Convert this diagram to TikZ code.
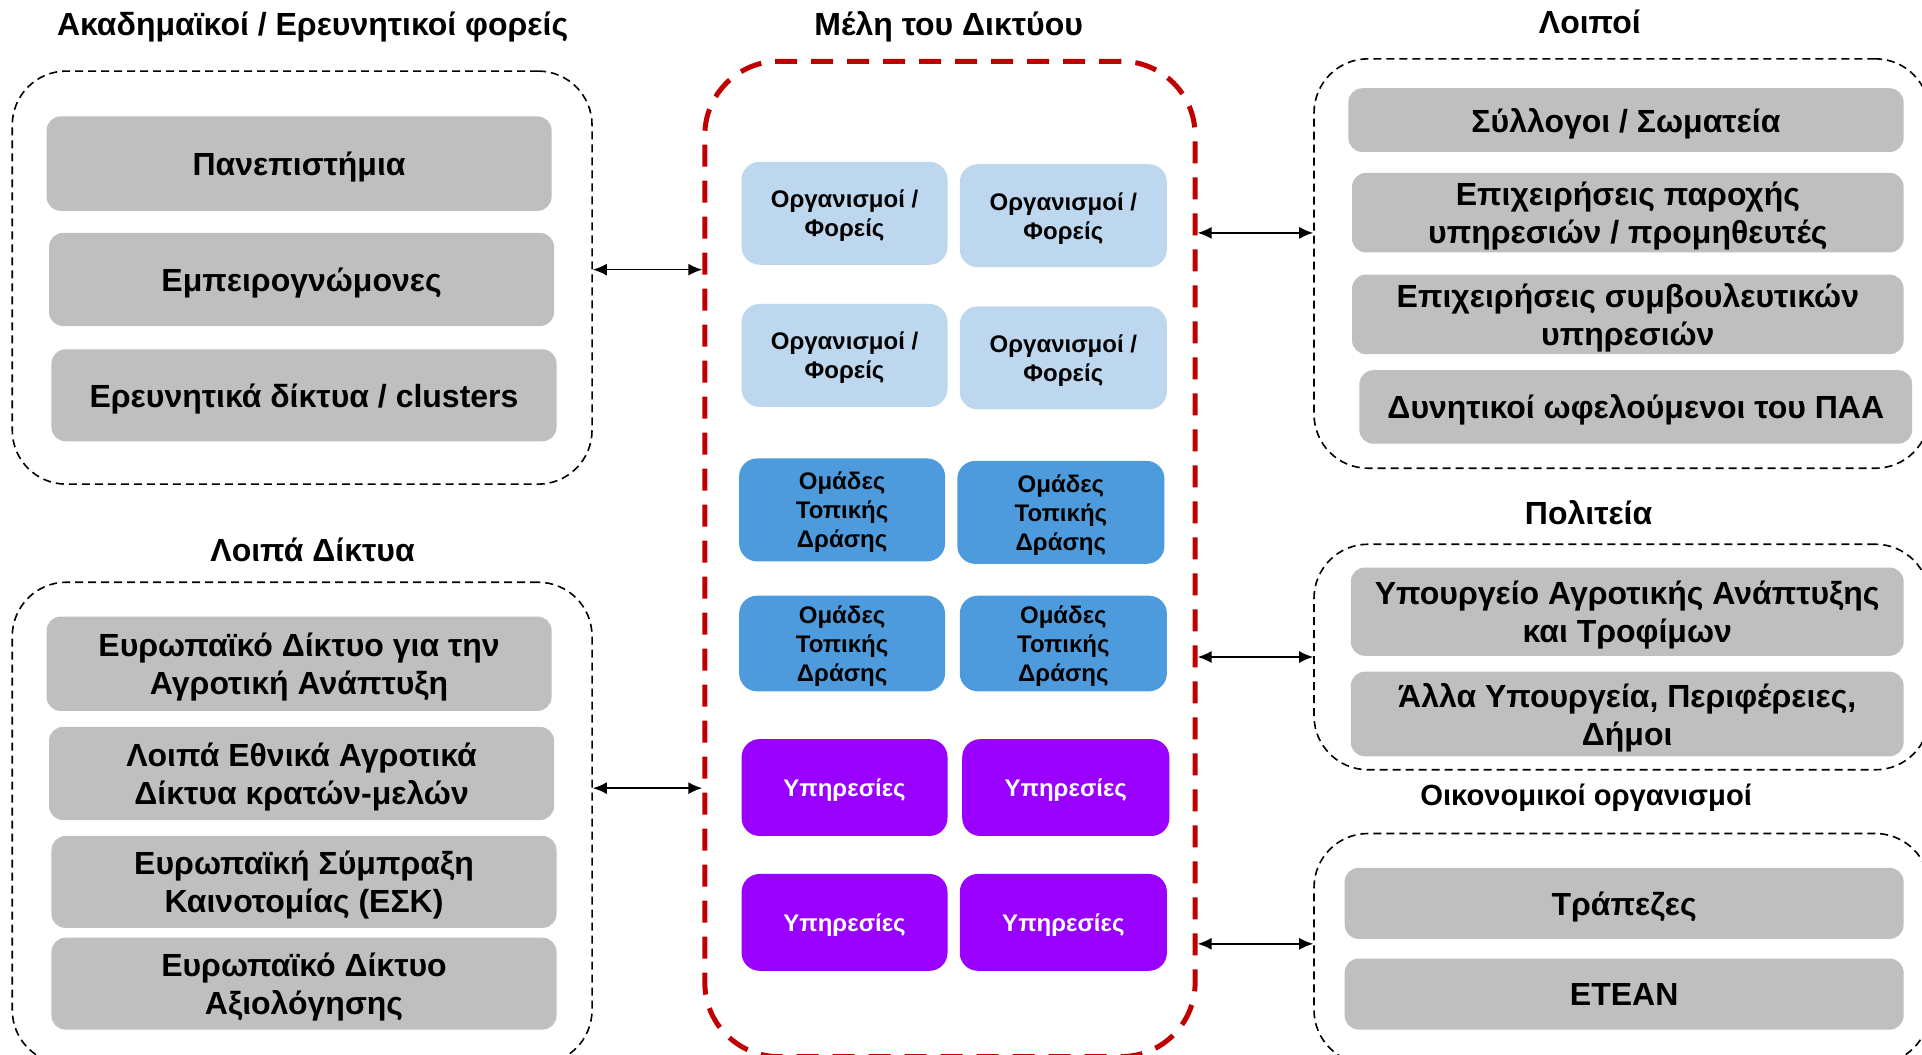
\documentclass[tikz,border=0pt]{standalone}
\usepackage{fontspec}
\setmainfont{Liberation Sans}
\usetikzlibrary{arrows.meta}
\definecolor{gboxc}{HTML}{BFBFBF}
\definecolor{lblue}{HTML}{BDD7EE}
\definecolor{mblue}{HTML}{4D9BDC}
\definecolor{purp}{HTML}{9900FF}
\definecolor{dred}{HTML}{C00000}
\newcommand\mybox[7]{%
  \pgfmathsetmacro\bcx{(#3+#5)/2}%
  \pgfmathsetmacro\bcy{(#4+#6)/2}%
  \pgfmathsetmacro\bww{(#5-#3)*0.6129}%
  \pgfmathsetmacro\bhh{(#6-#4)*0.6129}%
  \node[#1, minimum width=\bww pt, minimum height=\bhh pt] (#2) at (\bcx,\bcy) {#7};}
\begin{document}
\begin{tikzpicture}[x=0.6129pt,y=-0.6129pt,
  gbox/.style={fill=gboxc, draw=none, rounded corners=7pt, inner sep=0pt, align=center,
    text depth=0pt, font=\fontsize{16}{19}\selectfont\bfseries},
  sbox/.style={draw=none, rounded corners=9pt, inner sep=0pt, align=center,
    text depth=0pt, font=\fontsize{12}{14.5}\selectfont\bfseries},
  lb/.style={sbox, fill=lblue},
  mb/.style={sbox, fill=mblue},
  pb/.style={sbox, fill=purp, text=white},
  cont/.style={draw=black, dash pattern=on 4pt off 2.5pt, line width=0.8pt, rounded corners=27pt, inner sep=0pt},
  redbox/.style={draw=dred, dash pattern=on 11pt off 7pt, line width=2.5pt, rounded corners=37pt, inner sep=0pt},
  ttl/.style={font=\fontsize{16}{19}\selectfont\bfseries, inner sep=0pt},
  arr/.style={{Latex[length=7pt,width=6pt]}-{Latex[length=7pt,width=6pt]}, line width=0.8pt}
]
\useasboundingbox (0,0) rectangle (1568,860);
% titles
\node[ttl] (t1) at (255,22) {Ακαδημαϊκοί / Ερευνητικοί φορείς};
\node[ttl] (t2) at (255,449) {Λοιπά Δίκτυα};
\node[ttl] (t3) at (774,22) {Μέλη του Δικτύου};
\node[ttl] (t4) at (1297,18) {Λοιποί};
\node[ttl] (t5) at (1296,418) {Πολιτεία};
\node[ttl, font=\fontsize{14.6}{17}\selectfont\bfseries] (t6) at (1294,651) {Οικονομικοί οργανισμοί};
% containers
\mybox{cont}{c1}{10}{58}{483}{395}{}
\mybox{cont}{c2}{10}{475}{483}{868}{}
\mybox{cont}{c3}{1072}{48}{1574}{382}{}
\mybox{cont}{c4}{1072}{444}{1574}{628}{}
\mybox{cont}{c5}{1072}{680}{1574}{868}{}
\mybox{redbox}{red}{575}{50}{975}{862}{}
% left boxes
\mybox{gbox}{g1}{38}{95}{450}{172}{Πανεπιστήμια}
\mybox{gbox}{g2}{40}{190}{452}{266}{Εμπειρογνώμονες}
\mybox{gbox}{g3}{42}{285}{454}{360}{Ερευνητικά δίκτυα / clusters}
\mybox{gbox}{g4}{38}{503}{450}{580}{Ευρωπαϊκό Δίκτυο για την\\Αγροτική Ανάπτυξη}
\mybox{gbox}{g5}{40}{593}{452}{669}{Λοιπά Εθνικά Αγροτικά\\Δίκτυα κρατών-μελών}
\mybox{gbox}{g6}{42}{682}{454}{757}{Ευρωπαϊκή Σύμπραξη\\Καινοτομίας (ΕΣΚ)}
\mybox{gbox}{g7}{42}{765}{454}{840}{Ευρωπαϊκό Δίκτυο\\Αξιολόγησης}
% right boxes
\mybox{gbox}{r1}{1100}{72}{1553}{124}{Σύλλογοι / Σωματεία}
\mybox{gbox}{r2}{1103}{141}{1553}{206}{Επιχειρήσεις παροχής\\υπηρεσιών / προμηθευτές}
\mybox{gbox}{r3}{1103}{224}{1553}{289}{Επιχειρήσεις συμβουλευτικών\\υπηρεσιών}
\mybox{gbox}{r4}{1109}{302}{1560}{362}{Δυνητικοί ωφελούμενοι του ΠΑΑ}
\mybox{gbox}{r5}{1102}{463}{1553}{535}{Υπουργείο Αγροτικής Ανάπτυξης\\και Τροφίμων}
\mybox{gbox}{r6}{1102}{548}{1553}{617}{Άλλα Υπουργεία, Περιφέρειες,\\Δήμοι}
\mybox{gbox}{r7}{1097}{708}{1553}{766}{Τράπεζες}
\mybox{gbox}{r8}{1097}{782}{1553}{840}{ETEAN}
% member boxes
\mybox{lb}{m1}{605}{132}{773}{216}{Οργανισμοί /\\Φορείς}
\mybox{lb}{m2}{783}{134}{952}{218}{Οργανισμοί /\\Φορείς}
\mybox{lb}{m3}{605}{248}{773}{332}{Οργανισμοί /\\Φορείς}
\mybox{lb}{m4}{783}{250}{952}{334}{Οργανισμοί /\\Φορείς}
\mybox{mb}{m5}{603}{374}{771}{458}{Ομάδες\\Τοπικής\\Δράσης}
\mybox{mb}{m6}{781}{376}{950}{460}{Ομάδες\\Τοπικής\\Δράσης}
\mybox{mb}{m7}{603}{486}{771}{564}{Ομάδες\\Τοπικής\\Δράσης}
\mybox{mb}{m8}{783}{486}{952}{564}{Ομάδες\\Τοπικής\\Δράσης}
\mybox{pb}{m9}{605}{603}{773}{682}{Υπηρεσίες}
\mybox{pb}{m10}{785}{603}{954}{682}{Υπηρεσίες}
\mybox{pb}{m11}{605}{713}{773}{792}{Υπηρεσίες}
\mybox{pb}{m12}{783}{713}{952}{792}{Υπηρεσίες}
% arrows
\coordinate (y1) at (0,220);
\coordinate (y2) at (0,643);
\coordinate (y3) at (0,190);
\coordinate (y4) at (0,536);
\coordinate (y5) at (0,770);
\draw[arr] (c1.east |- y1) -- (red.west |- y1);
\draw[arr] (c2.east |- y2) -- (red.west |- y2);
\draw[arr] (red.east |- y3) -- (c3.west |- y3);
\draw[arr] (red.east |- y4) -- (c4.west |- y4);
\draw[arr] (red.east |- y5) -- (c5.west |- y5);
\end{tikzpicture}
\end{document}
